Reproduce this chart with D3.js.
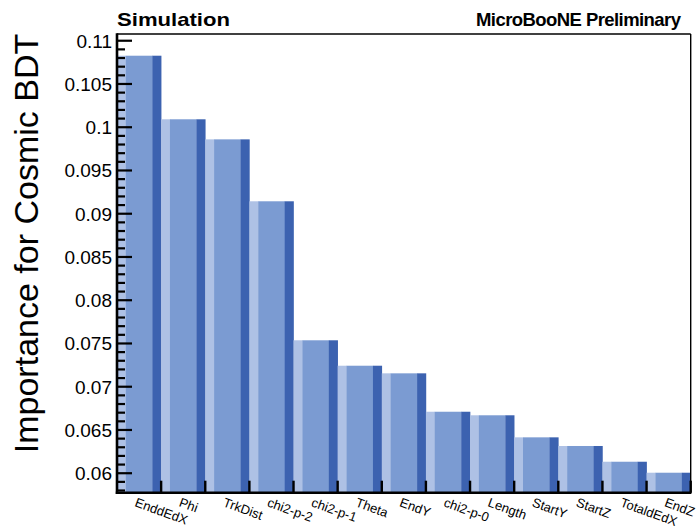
<!DOCTYPE html>
<html>
<head>
<meta charset="utf-8">
<script src="https://cdn.jsdelivr.net/npm/d3@7"></script>
<style>
  body { margin: 0; background: #fff; }
  svg { display: block; font-family: "Liberation Sans", Arial, Helvetica, sans-serif; }
</style>
</head>
<body>
<svg id="chart"></svg>
<script>
// variable names and their BDT importance
var variables = ["EnddEdX", "Phi", "TrkDist", "chi2-p-2", "chi2-p-1", "Theta", "EndY",
  "chi2-p-0", "Length", "StartY", "StartZ", "TotaldEdX", "EndZ"]
var importance = [0.10821, 0.10086, 0.09854, 0.09138, 0.07531, 0.07237, 0.07149,
  0.06705, 0.06664, 0.06409, 0.06309, 0.06127, 0.06000]
var yMajorTicks = [0.06, 0.065, 0.07, 0.075, 0.08, 0.085, 0.09, 0.095, 0.1, 0.105, 0.11]
var yDomain = [0.05769, 0.11072]

var width = 696, height = 527
var frame = { left: 117, right: 690.7, top: 34, bottom: 492.7 }
var colors = { light: "#aec1e5", mid: "#7b9bd2", dark: "#3c62b0" }

var data = variables.map(function (v, i) {
  return { name: v, value: importance[i] }
})

var svg = d3.select("#chart")
  .attr("width", width)
  .attr("height", height)

var x = d3.scaleBand()
  .domain(variables)
  .range([frame.left, frame.right])
  .padding(0)

var y = d3.scaleLinear()
  .domain(yDomain)
  .range([frame.bottom, frame.top])

// bars: ROOT "bar" style, light 20% left, dark 20% right
var bars = svg.append("g").attr("class", "bars")
  .selectAll("g.bar")
  .data(data)
  .enter()
  .append("g")
  .attr("class", "bar")

var bw = x.bandwidth()
var parts = [
  { off: 0, w: 0.2, fill: colors.light },
  { off: 0.2, w: 0.6, fill: colors.mid },
  { off: 0.8, w: 0.2, fill: colors.dark }
]
parts.forEach(function (p) {
  bars.append("rect")
    .attr("x", function (d) { return x(d.name) + p.off * bw })
    .attr("width", p.w * bw + 0.3)
    .attr("y", function (d) { return y(d.value) })
    .attr("height", function (d) { return frame.bottom - y(d.value) })
    .style("fill", p.fill)
})

// minor y ticks
var minorTicks = d3.range(58, 111).map(function (i) { return i / 1000 })
  .filter(function (t) { return Math.round(t * 1000) % 5 !== 0 })

svg.append("g")
  .attr("class", "yminor")
  .attr("transform", "translate(" + frame.left + ",0)")
  .call(d3.axisLeft(y).tickValues(minorTicks).tickSize(-8).tickFormat(""))
  .call(function (g) { g.select(".domain").remove() })
  .selectAll("line").attr("stroke-width", 2.2)

// major y ticks + labels
var yAxis = svg.append("g")
  .attr("class", "yaxis")
  .attr("transform", "translate(" + frame.left + ",0)")
  .call(d3.axisLeft(y).tickValues(yMajorTicks).tickSize(-15).tickPadding(5)
    .tickFormat(function (d) { return d3.format("")(+d.toFixed(3)) }))
yAxis.select(".domain").remove()
yAxis.selectAll("line").attr("stroke-width", 2.2)
yAxis.selectAll("text")
  .attr("font-size", 19)
  .attr("font-family", "Liberation Sans, Arial, sans-serif")
  .attr("fill", "#000")
  .attr("dy", "0.36em")

// x ticks at bin edges
svg.append("g").attr("class", "xticks")
  .selectAll("line")
  .data(variables)
  .enter()
  .append("line")
  .attr("x1", function (d) { return x(d) + bw })
  .attr("x2", function (d) { return x(d) + bw })
  .attr("y1", frame.bottom)
  .attr("y2", frame.bottom - 12)
  .attr("stroke", "#000")
  .attr("stroke-width", 2.4)

// x labels, tilted
svg.append("g").attr("class", "xlabels")
  .selectAll("text")
  .data(variables)
  .enter()
  .append("text")
  .attr("transform", function (d) {
    return "translate(" + (x(d) + bw / 2 - 5) + ",506) rotate(20)"
  })
  .attr("font-size", 13)
  .attr("text-anchor", "start")
  .text(function (d) { return d })

// frame
svg.append("line").attr("x1", frame.left).attr("x2", frame.right)
  .attr("y1", frame.top).attr("y2", frame.top)
  .attr("stroke", "#000").attr("stroke-width", 1.4)
svg.append("line").attr("x1", frame.right).attr("x2", frame.right)
  .attr("y1", frame.top).attr("y2", frame.bottom)
  .attr("stroke", "#000").attr("stroke-width", 1.4)
svg.append("line").attr("x1", frame.left).attr("x2", frame.left)
  .attr("y1", frame.top - 0.7).attr("y2", frame.bottom + 1.2)
  .attr("stroke", "#000").attr("stroke-width", 2.6)
svg.append("line").attr("x1", frame.left - 1.2).attr("x2", frame.right + 0.7)
  .attr("y1", frame.bottom).attr("y2", frame.bottom)
  .attr("stroke", "#000").attr("stroke-width", 2.6)

// titles
svg.append("text")
  .attr("transform", "translate(38,243.5) rotate(-90)")
  .attr("text-anchor", "middle")
  .attr("font-size", 34)
  .text("Importance for Cosmic BDT")

svg.append("text")
  .attr("x", 117).attr("y", 26)
  .attr("font-size", 19).attr("font-weight", "bold")
  .attr("textLength", 113).attr("lengthAdjust", "spacingAndGlyphs")
  .text("Simulation")

svg.append("text")
  .attr("x", 476).attr("y", 26)
  .attr("font-size", 18.5).attr("font-weight", "bold")
  .attr("textLength", 205).attr("lengthAdjust", "spacing")
  .text("MicroBooNE Preliminary")
</script>
</body>
</html>
